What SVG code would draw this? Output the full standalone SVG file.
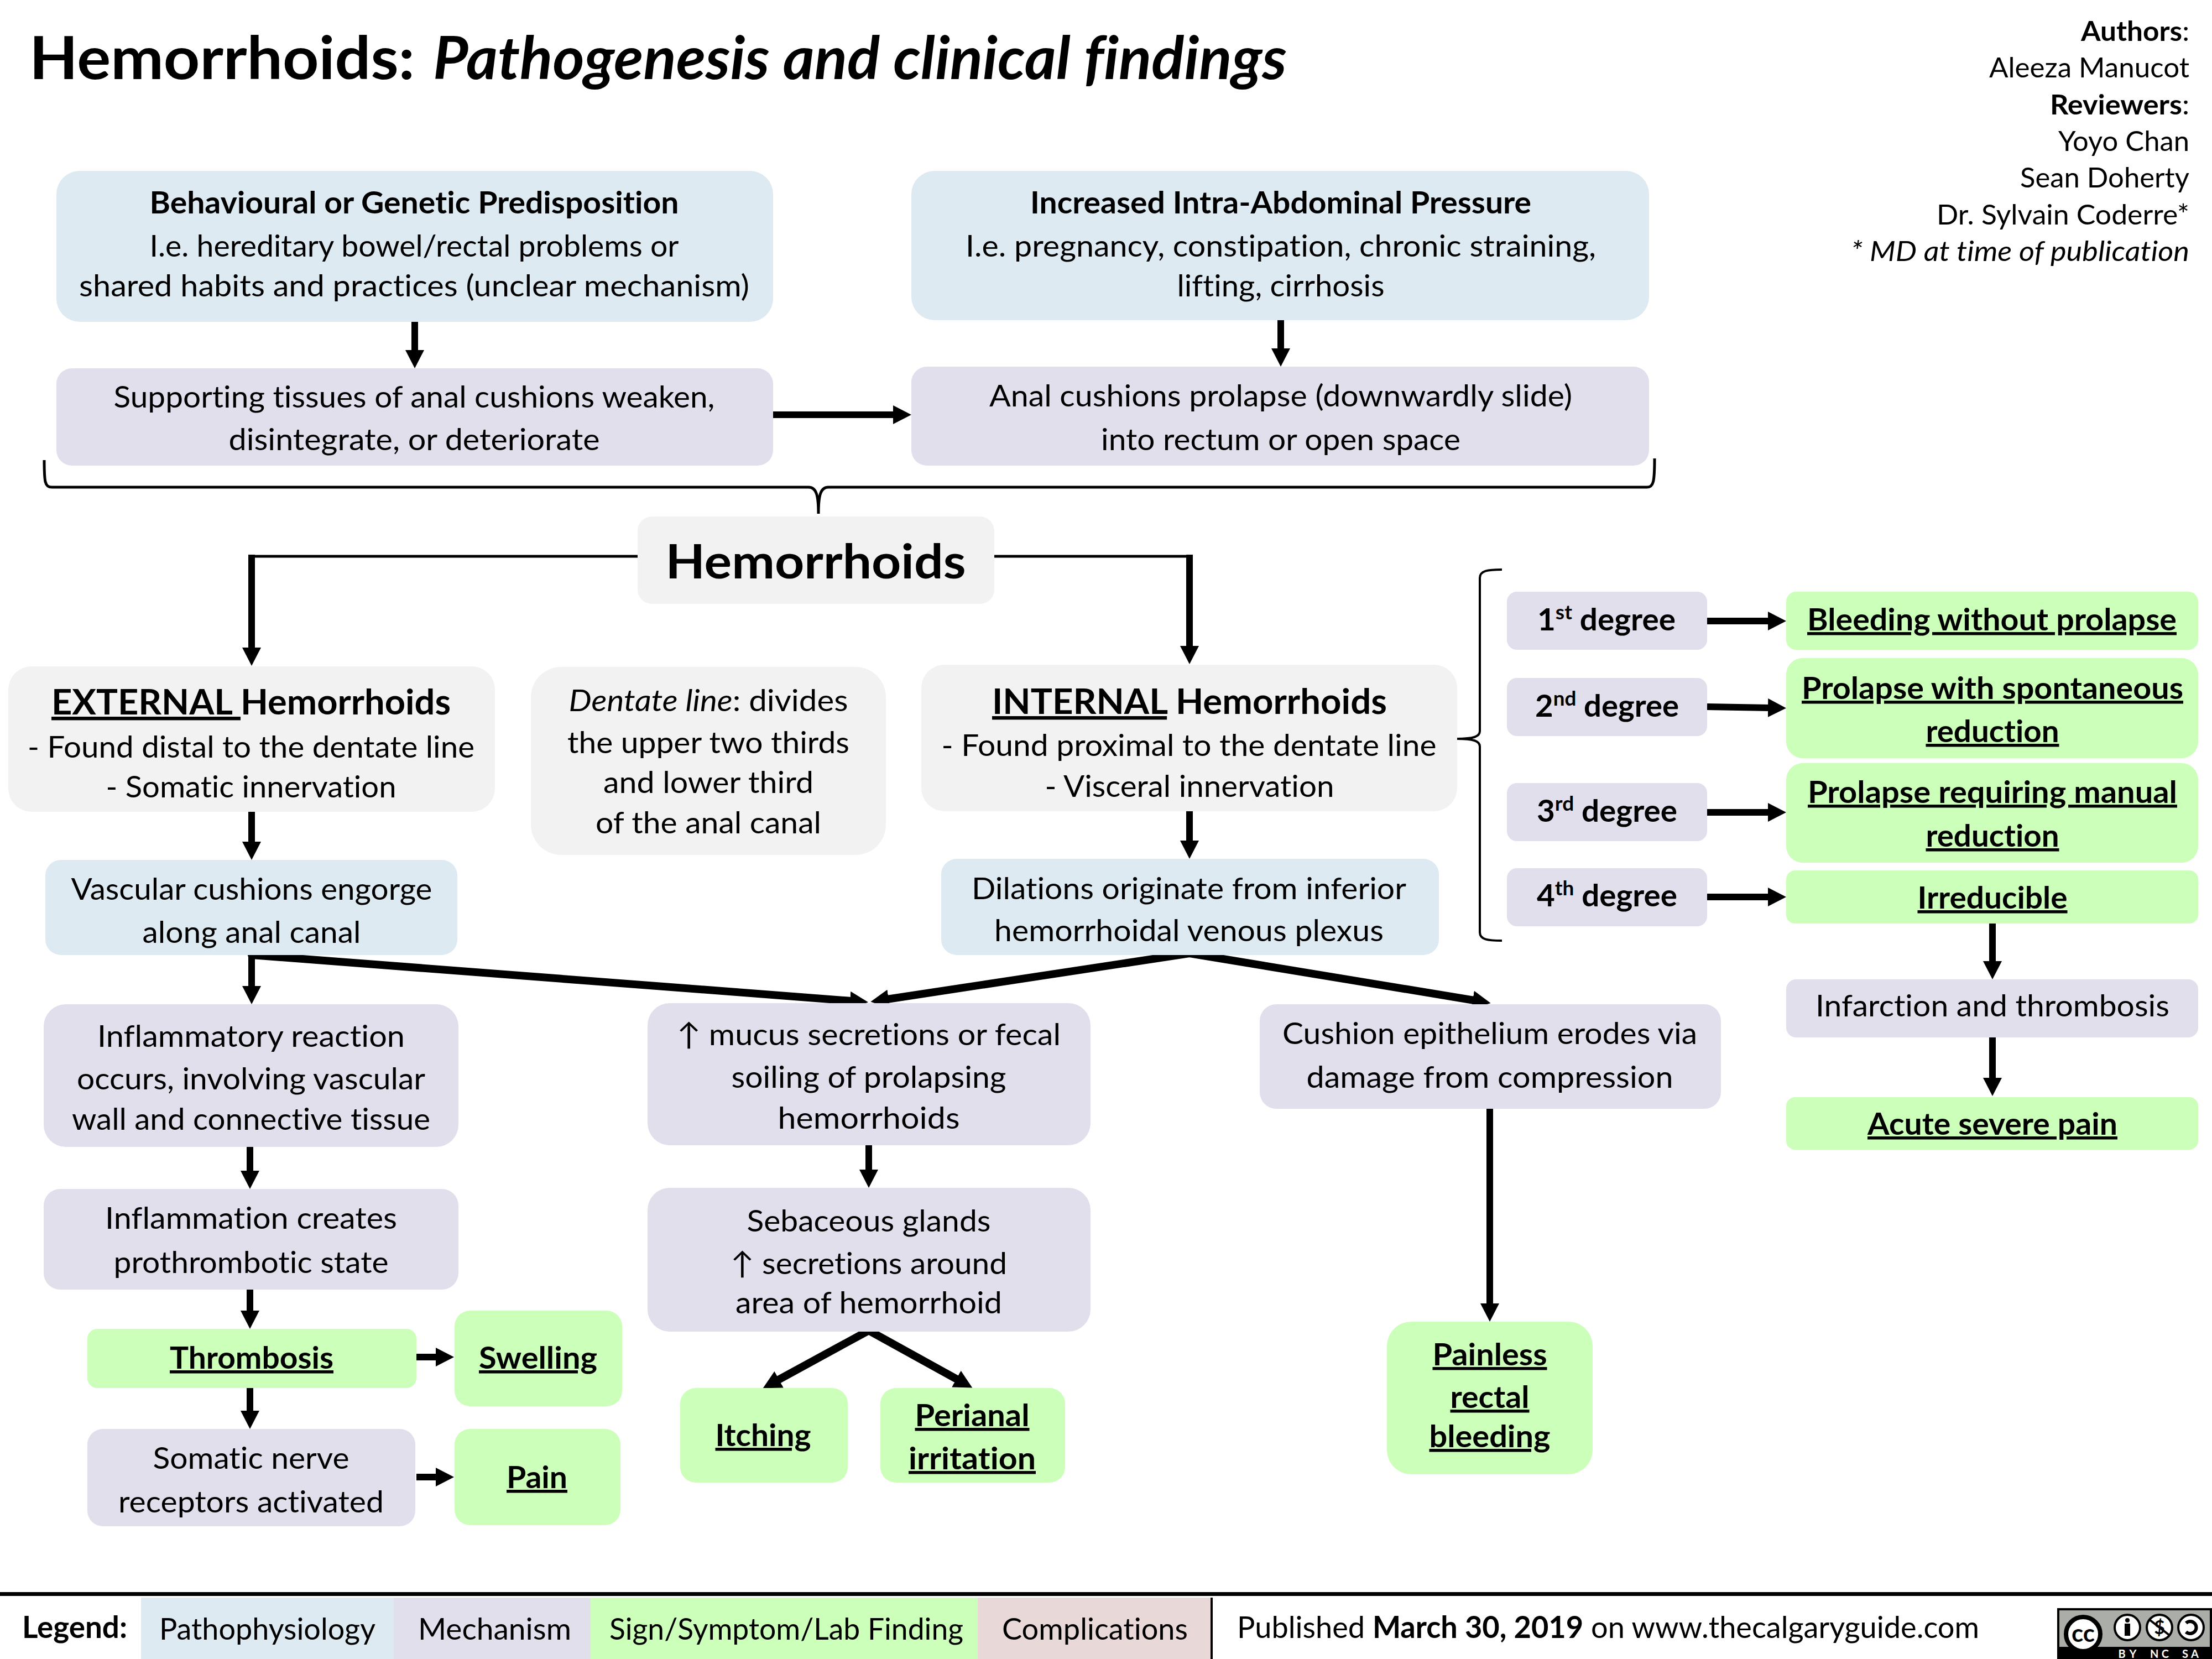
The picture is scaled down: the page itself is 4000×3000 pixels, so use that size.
<svg xmlns="http://www.w3.org/2000/svg" width="4000" height="3000" viewBox="0 0 4000 3000">
<style>
text{font-family:"Lato","Carlito","Liberation Sans",sans-serif;font-size:55px;fill:#000;text-anchor:middle;font-variant-ligatures:none}
.s{text-anchor:start}.e{text-anchor:end}
.b{font-weight:700}.i{font-style:italic}.u{text-decoration:underline}
.bl{fill:#DEEAF1}.pu{fill:#E1DFEC}.gr{fill:#CCFFB9}.ng{fill:#F2F2F2}.re{fill:#E8D8D8}
.ar{fill:none;stroke:#000;stroke-width:12;marker-end:url(#h)}
.dg{stroke-width:14}
.th{fill:none;stroke:#000;stroke-width:5}
.rc{stroke-linecap:round}
.cr{font-size:50px}
.cw{font-size:20px;fill:#fff;font-weight:700}
</style>
<defs><marker id="h" markerUnits="userSpaceOnUse" markerWidth="36" markerHeight="36" refX="3" refY="17" orient="auto"><path d="M0 0L33 17L0 34z" fill="#000"/></marker></defs>

<g id="title">
<text class="s b" x="53" y="143" style="font-size:107px" textLength="697" lengthAdjust="spacingAndGlyphs">Hemorrhoids:</text>
<text class="s b i" x="783" y="143" style="font-size:107px" textLength="1544" lengthAdjust="spacingAndGlyphs">Pathogenesis and clinical findings</text>
</g>
<g id="credits">
<text class="e cr" x="3959" y="74" textLength="196" lengthAdjust="spacingAndGlyphs"><tspan class="b">Authors</tspan>:</text>
<text class="e cr" x="3959" y="140" textLength="362" lengthAdjust="spacingAndGlyphs">Aleeza Manucot</text>
<text class="e cr" x="3959" y="207" textLength="252" lengthAdjust="spacingAndGlyphs"><tspan class="b">Reviewers</tspan>:</text>
<text class="e cr" x="3959" y="273" textLength="237" lengthAdjust="spacingAndGlyphs">Yoyo Chan</text>
<text class="e cr" x="3959" y="339" textLength="306" lengthAdjust="spacingAndGlyphs">Sean Doherty</text>
<text class="e cr" x="3959" y="406" textLength="457" lengthAdjust="spacingAndGlyphs">Dr. Sylvain Coderre*</text>
<text class="e i cr" x="3959" y="472" textLength="612" lengthAdjust="spacingAndGlyphs">* MD at time of publication</text>
</g>

<g id="connectors">
<path class="ar" d="M750 582V636"/>
<path class="ar" d="M2316 579V633"/>
<path class="ar" d="M1398 750H1618"/>
<path class="th" d="M80 832C80 872 81 881 94 881H1462C1476 881 1480 895 1480 929C1480 895 1484 881 1498 881H2978C2990 881 2992 872 2992 829"/>
<path class="th" d="M1153 1006H455"/>
<path class="ar" d="M455 1003V1174"/>
<path class="th" d="M1798 1006H2151"/>
<path class="ar" d="M2151 1003V1171"/>
<path class="ar" d="M455 1468V1525"/>
<path class="ar" d="M2151 1467V1523"/>
<path class="ar" d="M455 1724V1786"/>
<path class="ar dg rc" d="M455 1727L1540 1810"/>
<path class="ar dg rc" d="M2151 1724L1604 1807"/>
<path class="ar dg rc" d="M2151 1724L2666 1809"/>
<path class="ar" d="M452 2074V2120"/>
<path class="ar" d="M452 2332V2373"/>
<path class="ar" d="M452 2510V2554"/>
<path class="ar" d="M753 2454H791"/>
<path class="ar" d="M753 2671H791"/>
<path class="ar" d="M1571 2071V2118"/>
<path class="ar dg rc" d="M1571 2406L1406 2496"/>
<path class="ar dg rc" d="M1571 2406L1732 2495"/>
<path class="ar" d="M2694 2005V2360"/>
<path fill="none" stroke="#000" stroke-width="4" d="M2716 1030C2690 1030 2676 1032 2676 1045V1322C2676 1332 2665 1336 2634 1336C2665 1336 2676 1340 2676 1350V1686C2676 1699 2690 1701 2716 1701"/>
<path class="ar" d="M3087 1123H3200"/>
<path class="ar" d="M3087 1278L3200 1280"/>
<path class="ar" d="M3087 1469H3200"/>
<path class="ar" d="M3087 1622H3200"/>
<path class="ar" d="M3603 1670V1741"/>
<path class="ar" d="M3603 1876V1952"/>
</g>

<g id="n-predisposition"><rect class="bl" x="102" y="309" width="1296" height="273" rx="42"/>
<text class="b" x="749" y="386" textLength="957" lengthAdjust="spacingAndGlyphs">Behavioural or Genetic Predisposition</text>
<text x="749" y="464" textLength="957" lengthAdjust="spacingAndGlyphs">I.e. hereditary bowel/rectal problems or</text>
<text x="749" y="536" textLength="1212" lengthAdjust="spacingAndGlyphs">shared habits and practices (unclear mechanism)</text></g>
<g id="n-pressure"><rect class="bl" x="1648" y="309" width="1334" height="270" rx="42"/>
<text class="b" x="2316" y="386" textLength="906" lengthAdjust="spacingAndGlyphs">Increased Intra-Abdominal Pressure</text>
<text x="2316" y="464" textLength="1140" lengthAdjust="spacingAndGlyphs">I.e. pregnancy, constipation, chronic straining,</text>
<text x="2316" y="536" textLength="375" lengthAdjust="spacingAndGlyphs">lifting, cirrhosis</text></g>
<g id="n-supporting"><rect class="pu" x="102" y="666" width="1296" height="176" rx="28"/>
<text x="749" y="737" textLength="1087" lengthAdjust="spacingAndGlyphs">Supporting tissues of anal cushions weaken,</text>
<text x="749" y="814" textLength="671" lengthAdjust="spacingAndGlyphs">disintegrate, or deteriorate</text></g>
<g id="n-prolapse"><rect class="pu" x="1648" y="663" width="1334" height="179" rx="28"/>
<text x="2316" y="735" textLength="1054" lengthAdjust="spacingAndGlyphs">Anal cushions prolapse (downwardly slide)</text>
<text x="2316" y="814" textLength="650" lengthAdjust="spacingAndGlyphs">into rectum or open space</text></g>
<g id="n-hemorrhoids"><rect class="ng" x="1153" y="934" width="645" height="158" rx="26"/>
<text class="b" x="1475" y="1046" style="font-size:86px" textLength="543" lengthAdjust="spacingAndGlyphs">Hemorrhoids</text></g>
<g id="n-external"><rect class="ng" x="15" y="1205" width="880" height="263" rx="42"/>
<text class="b" x="454" y="1292" style="font-size:64px" textLength="722" lengthAdjust="spacingAndGlyphs"><tspan class="u">EXTERNAL </tspan>Hemorrhoids</text>
<text x="454" y="1370" textLength="808" lengthAdjust="spacingAndGlyphs">- Found distal to the dentate line</text>
<text x="454" y="1442" textLength="525" lengthAdjust="spacingAndGlyphs">- Somatic innervation</text></g>
<g id="n-dentate"><rect class="ng" x="960" y="1206" width="642" height="340" rx="55"/>
<text x="1281" y="1286" textLength="505" lengthAdjust="spacingAndGlyphs"><tspan class="i">Dentate line</tspan>: divides</text>
<text x="1281" y="1362" textLength="510" lengthAdjust="spacingAndGlyphs">the upper two thirds</text>
<text x="1281" y="1434" textLength="380" lengthAdjust="spacingAndGlyphs">and lower third</text>
<text x="1281" y="1507" textLength="408" lengthAdjust="spacingAndGlyphs">of the anal canal</text></g>
<g id="n-internal"><rect class="ng" x="1666" y="1202" width="969" height="265" rx="42"/>
<text class="b" x="2151" y="1291" style="font-size:64px" textLength="714" lengthAdjust="spacingAndGlyphs"><tspan class="u">INTERNAL</tspan> Hemorrhoids</text>
<text x="2150" y="1367" textLength="895" lengthAdjust="spacingAndGlyphs">- Found proximal to the dentate line</text>
<text x="2151" y="1441" textLength="523" lengthAdjust="spacingAndGlyphs">- Visceral innervation</text></g>
<g id="n-vascular"><rect class="bl" x="82" y="1555" width="745" height="172" rx="28"/>
<text x="455" y="1627" textLength="653" lengthAdjust="spacingAndGlyphs">Vascular cushions engorge</text>
<text x="455" y="1705" textLength="395" lengthAdjust="spacingAndGlyphs">along anal canal</text></g>
<g id="n-dilations"><rect class="bl" x="1702" y="1553" width="900" height="174" rx="28"/>
<text x="2150" y="1626" textLength="786" lengthAdjust="spacingAndGlyphs">Dilations originate from inferior</text>
<text x="2150" y="1702" textLength="704" lengthAdjust="spacingAndGlyphs">hemorrhoidal venous plexus</text></g>
<g id="n-inflammatory"><rect class="pu" x="79" y="1816" width="750" height="258" rx="40"/>
<text x="454" y="1893" textLength="556" lengthAdjust="spacingAndGlyphs">Inflammatory reaction</text>
<text x="454" y="1970" textLength="630" lengthAdjust="spacingAndGlyphs">occurs, involving vascular</text>
<text x="454" y="2043" textLength="648" lengthAdjust="spacingAndGlyphs">wall and connective tissue</text></g>
<g id="n-inflammation"><rect class="pu" x="79" y="2150" width="750" height="182" rx="30"/>
<text x="454" y="2222" textLength="528" lengthAdjust="spacingAndGlyphs">Inflammation creates</text>
<text x="454" y="2302" textLength="497" lengthAdjust="spacingAndGlyphs">prothrombotic state</text></g>
<g id="n-thrombosis"><rect class="gr" x="158" y="2403" width="595" height="107" rx="18"/>
<text class="b u" x="455" y="2475" textLength="296" lengthAdjust="spacingAndGlyphs">Thrombosis</text></g>
<g id="n-somatic"><rect class="pu" x="158" y="2584" width="593" height="176" rx="28"/>
<text x="454" y="2656" textLength="355" lengthAdjust="spacingAndGlyphs">Somatic nerve</text>
<text x="454" y="2735" textLength="480" lengthAdjust="spacingAndGlyphs">receptors activated</text></g>
<g id="n-swelling"><rect class="gr" x="822" y="2370" width="303" height="173" rx="28"/>
<text class="b u" x="973" y="2475" textLength="214" lengthAdjust="spacingAndGlyphs">Swelling</text></g>
<g id="n-pain"><rect class="gr" x="822" y="2584" width="300" height="174" rx="28"/>
<text class="b u" x="971" y="2691" textLength="110" lengthAdjust="spacingAndGlyphs">Pain</text></g>
<g id="n-mucus"><rect class="pu" x="1171" y="1814" width="801" height="257" rx="40"/>
<text x="1571" y="1890" textLength="694" lengthAdjust="spacingAndGlyphs">↑ mucus secretions or fecal</text>
<text x="1571" y="1967" textLength="497" lengthAdjust="spacingAndGlyphs">soiling of prolapsing</text>
<text x="1571" y="2041" textLength="329" lengthAdjust="spacingAndGlyphs">hemorrhoids</text></g>
<g id="n-sebaceous"><rect class="pu" x="1171" y="2148" width="801" height="260" rx="40"/>
<text x="1571" y="2227" textLength="441" lengthAdjust="spacingAndGlyphs">Sebaceous glands</text>
<text x="1571" y="2304" textLength="500" lengthAdjust="spacingAndGlyphs">↑ secretions around</text>
<text x="1571" y="2375" textLength="482" lengthAdjust="spacingAndGlyphs">area of hemorrhoid</text></g>
<g id="n-itching"><rect class="gr" x="1230" y="2510" width="303" height="171" rx="28"/>
<text class="b u" x="1380" y="2615" textLength="173" lengthAdjust="spacingAndGlyphs">Itching</text></g>
<g id="n-perianal"><rect class="gr" x="1592" y="2510" width="334" height="171" rx="28"/>
<text class="b u" x="1758" y="2579" textLength="207" lengthAdjust="spacingAndGlyphs">Perianal</text>
<text class="b u" x="1758" y="2657" textLength="230" lengthAdjust="spacingAndGlyphs">irritation</text></g>
<g id="n-cushion"><rect class="pu" x="2278" y="1816" width="834" height="189" rx="30"/>
<text x="2694" y="1888" textLength="750" lengthAdjust="spacingAndGlyphs">Cushion epithelium erodes via</text>
<text x="2694" y="1967" textLength="663" lengthAdjust="spacingAndGlyphs">damage from compression</text></g>
<g id="n-painless"><rect class="gr" x="2508" y="2390" width="372" height="276" rx="44"/>
<text class="b u" x="2694" y="2469" textLength="207" lengthAdjust="spacingAndGlyphs">Painless</text>
<text class="b u" x="2694" y="2546" textLength="143" lengthAdjust="spacingAndGlyphs">rectal</text>
<text class="b u" x="2694" y="2617" textLength="219" lengthAdjust="spacingAndGlyphs">bleeding</text></g>

<g id="n-degree1"><rect class="pu" x="2725" y="1070" width="362" height="105" rx="18"/>
<text class="b" x="2905" y="1140" textLength="250" lengthAdjust="spacingAndGlyphs">1<tspan dy="-20" style="font-size:36px">st</tspan><tspan dy="20"> degree</tspan></text></g>
<g id="n-degree2"><rect class="pu" x="2725" y="1226" width="362" height="105" rx="18"/>
<text class="b" x="2906" y="1296" textLength="260" lengthAdjust="spacingAndGlyphs">2<tspan dy="-20" style="font-size:36px">nd</tspan><tspan dy="20"> degree</tspan></text></g>
<g id="n-degree3"><rect class="pu" x="2725" y="1416" width="362" height="105" rx="18"/>
<text class="b" x="2906" y="1486" textLength="254" lengthAdjust="spacingAndGlyphs">3<tspan dy="-20" style="font-size:36px">rd</tspan><tspan dy="20"> degree</tspan></text></g>
<g id="n-degree4"><rect class="pu" x="2725" y="1570" width="362" height="105" rx="18"/>
<text class="b" x="2906" y="1639" textLength="254" lengthAdjust="spacingAndGlyphs">4<tspan dy="-20" style="font-size:36px">th</tspan><tspan dy="20"> degree</tspan></text></g>
<g id="n-bleeding"><rect class="gr" x="3230" y="1070" width="745" height="105" rx="18"/>
<text class="b u" x="3602" y="1140" textLength="668" lengthAdjust="spacingAndGlyphs">Bleeding without prolapse</text></g>
<g id="n-spontaneous"><rect class="gr" x="3230" y="1190" width="745" height="181" rx="30"/>
<text class="b u" x="3603" y="1264" textLength="690" lengthAdjust="spacingAndGlyphs">Prolapse with spontaneous</text>
<text class="b u" x="3603" y="1342" textLength="241" lengthAdjust="spacingAndGlyphs">reduction</text></g>
<g id="n-manual"><rect class="gr" x="3230" y="1380" width="745" height="180" rx="30"/>
<text class="b u" x="3603" y="1452" textLength="668" lengthAdjust="spacingAndGlyphs">Prolapse requiring manual</text>
<text class="b u" x="3603" y="1531" textLength="241" lengthAdjust="spacingAndGlyphs">reduction</text></g>
<g id="n-irreducible"><rect class="gr" x="3230" y="1574" width="745" height="96" rx="16"/>
<text class="b u" x="3603" y="1643" textLength="271" lengthAdjust="spacingAndGlyphs">Irreducible</text></g>
<g id="n-infarction"><rect class="pu" x="3230" y="1771" width="745" height="105" rx="18"/>
<text x="3603" y="1838" textLength="640" lengthAdjust="spacingAndGlyphs">Infarction and thrombosis</text></g>
<g id="n-acute"><rect class="gr" x="3230" y="1984" width="745" height="95" rx="16"/>
<text class="b u" x="3603" y="2052" textLength="452" lengthAdjust="spacingAndGlyphs">Acute severe pain</text></g>

<g id="legend">
<rect x="0" y="2879" width="4000" height="7" fill="#000"/>
<rect class="bl" x="255" y="2889" width="457" height="111"/>
<rect class="pu" x="712" y="2889" width="356" height="111"/>
<rect class="gr" x="1068" y="2889" width="700" height="111"/>
<rect class="re" x="1768" y="2889" width="422" height="111"/>
<rect x="2189" y="2889" width="4" height="111" fill="#000"/>
<text class="s b" x="40" y="2962" textLength="190" lengthAdjust="spacingAndGlyphs">Legend:</text>
<text class="s" x="288" y="2965" textLength="391" lengthAdjust="spacingAndGlyphs">Pathophysiology</text>
<text class="s" x="756" y="2965" textLength="277" lengthAdjust="spacingAndGlyphs">Mechanism</text>
<text class="s" x="1102" y="2965" textLength="640" lengthAdjust="spacingAndGlyphs">Sign/Symptom/Lab Finding</text>
<text class="s" x="1812" y="2965" textLength="336" lengthAdjust="spacingAndGlyphs">Complications</text>
<text class="s" x="2237" y="2962" textLength="1342" lengthAdjust="spacingAndGlyphs">Published <tspan class="b">March 30, 2019</tspan> on www.thecalgaryguide.com</text>
</g>
<g id="cc-badge">
<rect x="3720" y="2908" width="280" height="92" fill="#000"/>
<rect x="3724" y="2912" width="272" height="66" fill="#ABADA8"/>
<circle cx="3767" cy="2955" r="31" fill="#fff" stroke="#000" stroke-width="8"/>
<text class="b" x="3767" y="2969" style="font-size:44px">cc</text>
<circle cx="3847" cy="2943" r="23" fill="#fff" stroke="#000" stroke-width="4"/>
<circle cx="3847" cy="2930" r="4" fill="#000"/><rect x="3842" y="2936" width="10" height="22" fill="#000"/>
<circle cx="3905" cy="2943" r="23" fill="#fff" stroke="#000" stroke-width="4"/>
<text class="b" x="3905" y="2955" style="font-size:34px">$</text>
<path d="M3887 2929L3923 2957" stroke="#000" stroke-width="4"/>
<circle cx="3962" cy="2943" r="23" fill="#fff" stroke="#000" stroke-width="4"/>
<path d="M3953 2935A11 11 0 1 1 3953 2951" fill="none" stroke="#000" stroke-width="6"/>
<text class="cw" x="3847" y="2998" textLength="33" lengthAdjust="spacing">BY</text>
<text class="cw" x="3905" y="2998" textLength="34" lengthAdjust="spacing">NC</text>
<text class="cw" x="3961" y="2998" textLength="30" lengthAdjust="spacing">SA</text>
</g>
</svg>
